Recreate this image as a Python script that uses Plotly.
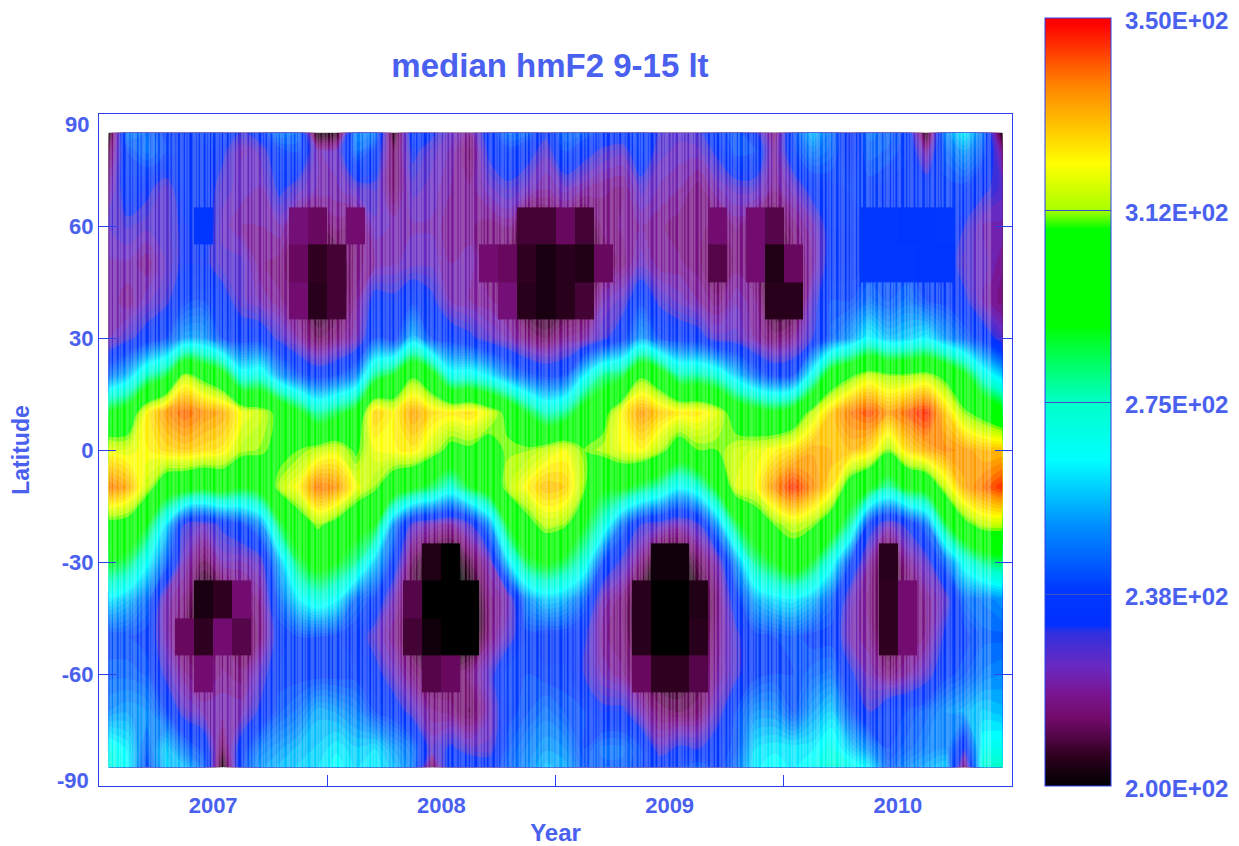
import itertools
import plotly.graph_objects as go

years = [2007, 2008, 2009, 2010]
months = [y + (m + 0.5) / 12 for y in years for m in range(12)]
latitudes = [-85, -80, -70, -60, -50, -40, -30, -20, -10, 0, 10, 20, 30, 40, 50, 60, 70, 80, 85]

lat_s85 = [272,264,240,258,256,246,203,240,252,256,258,260, 264,260,262,256,248,212,238,238,236,244,250,256, 254,242,244,244,240,236,240,244,238,246,262,264, 262,266,272,268,262,244,250,254,258,215,272,276]
lat_s80 = [268,262,244,258,246,238,212,236,248,252,256,258, 262,258,260,252,246,225,232,226,226,242,248,252, 250,240,246,246,240,226,232,230,236,242,260,262, 262,262,268,258,250,240,244,248,250,232,266,268]
lat_s70 = [250,252,250,240,226,222,222,222,232,242,246,254, 252,248,240,236,226,218,216,212,222,238,242,246, 242,240,232,232,222,214,212,214,226,240,250,250, 242,252,258,242,230,238,240,244,250,254,258,256]
lat_s60 = [244,244,242,228,218,214,218,216,226,238,238,238, 238,238,234,224,216,210,212,216,226,240,240,238, 238,230,222,218,212,206,206,210,220,228,238,240, 240,244,246,232,222,216,220,226,238,242,248,250]
lat_s50 = [240,240,238,222,212,206,214,210,216,236,240,240, 238,236,226,218,208,202,200,200,216,226,238,236, 236,232,218,216,205,200,200,205,218,228,238,240, 242,238,238,222,218,206,214,218,232,238,244,244]
lat_s40 = [262,256,246,222,216,203,206,214,218,245,262,270, 264,245,238,222,210,200,200,200,216,222,250,258, 255,244,222,216,205,200,200,204,216,236,254,260, 262,256,244,224,216,206,214,218,226,245,248,252]
lat_s30 = [290,284,266,245,222,212,222,222,226,256,285,296, 290,280,258,236,212,204,200,210,222,260,285,292, 285,272,240,228,216,202,202,212,222,252,280,290, 300,288,268,240,220,205,218,226,245,268,280,284]
lat_s20 = [306,304,290,262,230,225,232,238,250,285,302,312, 305,296,290,250,226,222,220,228,250,290,305,315, 312,290,272,246,230,226,222,228,252,285,300,310, 316,312,300,278,235,224,232,246,285,306,315,315]
lat_s10 = [338,332,316,300,296,292,296,290,296,314,322,338, 335,320,312,300,292,284,272,288,298,314,322,330, 328,312,292,292,284,276,264,272,292,318,320,335, 345,336,325,302,292,278,292,296,316,332,338,345]
lat_eq  = [320,318,322,326,328,326,324,314,312,306,310,315, 318,308,320,322,324,316,306,308,304,312,312,316, 320,310,314,320,322,314,302,310,310,316,318,322, 326,332,330,330,326,312,326,332,336,334,330,330]
lat_n10 = [292,298,322,334,340,335,332,320,316,306,292,278, 285,295,328,322,333,326,324,326,318,306,288,275, 280,298,305,322,334,328,324,324,318,302,296,292, 298,315,328,338,342,334,340,346,328,312,305,296]
lat_n20 = [246,256,275,285,314,305,295,268,270,252,242,236, 240,248,280,290,308,295,268,268,262,250,242,238, 240,262,280,285,308,298,278,278,272,258,245,238, 240,268,298,308,316,312,312,314,306,292,270,258]
lat_n30 = [222,228,234,240,252,252,240,236,236,228,220,212, 216,222,240,236,256,240,236,232,226,222,216,212, 218,220,228,236,252,240,236,234,226,226,220,214, 218,230,244,252,264,256,258,262,252,244,236,226]
lat_n40 = [222,218,224,228,238,240,234,226,222,218,214,205, 208,218,234,232,238,232,222,220,218,215,205,203, 205,208,222,226,238,228,224,220,216,222,218,205, 205,226,240,240,246,242,246,240,238,232,222,216]
lat_n50 = [222,222,218,225,232,232,226,226,218,216,212,206, 208,216,220,222,224,224,220,222,214,212,206,203, 205,204,212,216,224,218,218,216,210,216,214,204, 212,220,235,235,238,238,238,236,236,226,224,218]
lat_n60 = [225,228,226,226,232,236,224,220,220,222,215,212, 216,214,224,222,222,222,218,218,216,218,208,208, 212,208,216,218,220,218,216,216,214,218,214,210, 216,222,235,235,238,238,236,236,238,230,222,222]
lat_n70 = [220,236,232,226,236,236,226,224,222,232,226,222, 222,226,228,214,226,224,220,218,224,228,224,220, 224,220,218,217,226,222,220,216,222,226,226,218, 224,234,236,238,238,236,236,236,238,238,232,226]
lat_n80 = [212,240,246,240,236,236,232,222,226,238,240,222, 224,245,238,212,232,226,222,214,232,238,234,226, 240,234,228,226,238,226,224,224,232,242,240,218, 238,248,244,232,244,242,238,220,244,252,242,218]
lat_n85 = [203,248,245,238,236,240,238,230,236,248,245,203, 205,250,248,205,238,232,224,218,236,246,244,232, 245,243,238,236,240,228,226,228,238,242,232,216, 240,256,246,230,246,244,238,205,250,262,246,203]

z_rows = [lat_s85, lat_s80, lat_s70, lat_s60, lat_s50, lat_s40, lat_s30, lat_s20, lat_s10, lat_eq,
          lat_n10, lat_n20, lat_n30, lat_n40, lat_n50, lat_n60, lat_n70, lat_n80, lat_n85]

# Spacing, in days, of the thin sampling streaks that run through the reference's field
streak_gaps_days = [
    4,5,3,6,4,7,3,5,4,3,6,5,3,8,4,3,5,6,3,4,7,5,3,4,6,3,5,4,8,3,4,5,3,6,4,5,7,3,4,5,
    3,6,4,3,5,8,4,3,6,5,4,3,7,4,5,3,6,3,4,5,4,7,3,5,6,4,3,5,4,8,3,6,4,5,3,4,6,5,3,7,
    4,3,5,6,4,3,8,5,3,4,6,4,5,3,7,4,3,5,6,3,4,5,7,3,6,4,5,3,4,8,5,3,6,4,3,5,4,6,7,3,
    5,4,3,6,5,4,8,3,4,5,6,3,7,4,5,3,4,6,3,5,8,4,3,5,6,4,3,7,5,4,3,6,4,5,3,8,4,6,3,5,
    4,3,7,5,6,3,4,5,4,3,6,8,3,5,4,6,3,4,7,5,3,6,4,5,3,4,8,6,3,5,4,3,6,5,7,3,4,5,6,3,
    4,8,5,3,4,6,3,5,7,4,3,6,5,4,3,5,8,4,6,3,4,5,7,3,4,6,5,3,4,8,3,5,6,4,3,7,5,4,6,3,
    5,4,3,8,6,4,5,3,7,4,3,6,5,4,3,5,6,8,3,4,5,7,3,6,4,3,5,4,6,3,8,5,4,3,6,5,3,7,4,5,
    3,6,4,5,7,3,4,8,3,5,6,4,3,5,7,4,3,6,5,3,
]

year_labels = ["2007", "2008", "2009", "2010"]
lat_ticks = [-60, -30, 0, 30, 60]
bar_ticks = [200, 237.5, 275, 312.5, 350]
bar_labels = ["2.00E+02", "2.38E+02", "2.75E+02", "3.12E+02", "3.50E+02"]

BLUE = "#2a40f0"
TEXT = "#4a60ee"
FONT = "Liberation Sans"

scale = [
    [0.00, "#000000"], [0.04, "#300020"], [0.086, "#700a68"], [0.12, "#7a1590"],
    [0.155, "#6a28c0"], [0.20, "#3030e0"], [0.21, "#0030ff"], [0.255, "#0038ff"],
    [0.34, "#0090ff"], [0.425, "#00ffff"], [0.50, "#00ffc8"], [0.60, "#00ff00"],
    [0.725, "#00ff00"], [0.75, "#a8ff00"], [0.81, "#ffff00"], [0.915, "#ff8000"],
    [0.993, "#ff0000"], [1.00, "#ff0000"],
]

streak_x, streak_y = [], []
for day in itertools.accumulate(streak_gaps_days, initial=15):
    if day > 1446:
        break
    streak_x += [2007 + day / 365.25, 2007 + day / 365.25, None]
    streak_y += [latitudes[0], latitudes[-1], None]


def is_solid(lat, value):
    """Cells that the reference shows as unstreaked, blocky patches."""
    if abs(lat) >= 80 or abs(lat) <= 20:
        return False
    if value <= 208:
        return True
    if abs(lat) in (40, 50, 60) and value <= 215:
        return True
    return lat in (50, 60) and 236 <= value <= 238


solid_rows = [[v if 0 < i < len(row) - 1 and is_solid(lat, v) else None for i, v in enumerate(row)]
              for lat, row in zip(latitudes, z_rows)]

fig = go.Figure()
fig.add_trace(go.Contour(
    x=months, y=latitudes, z=z_rows,
    colorscale=scale, zmin=200, zmax=350, showscale=False,
    contours=dict(start=200, end=350, size=2.5, coloring="fill", showlines=False),
    line=dict(width=0),
))
fig.add_trace(go.Scatter(
    x=streak_x, y=streak_y, mode="lines", hoverinfo="skip", showlegend=False,
    line=dict(color="rgba(255,255,255,0.23)", width=2),
))
fig.add_trace(go.Heatmap(
    x=months, y=latitudes, z=solid_rows, colorscale=scale, zmin=200, zmax=350,
    showscale=False, hoverinfo="skip", xaxis="x2", yaxis="y2",
))
fig.add_trace(go.Scatter(
    x=[None], y=[None], mode="markers", hoverinfo="skip", showlegend=False,
    marker=dict(
        color=[200], cmin=200, cmax=350, colorscale=scale, showscale=True,
        colorbar=dict(
            thickness=66, thicknessmode="pixels", len=768, lenmode="pixels",
            x=(1045 - 99) / 913, xanchor="left", xpad=0,
            y=(786 - 18) / 672, yanchor="top", ypad=0,
            outlinecolor=BLUE, outlinewidth=1, borderwidth=0,
            tickmode="array", tickvals=bar_ticks, showticklabels=False,
            ticks="inside", ticklen=66, tickwidth=1, tickcolor="#4050c8",
        ),
    ),
))

PLOT_L, PLOT_R, PLOT_T, PLOT_B = 99, 1012, 114, 786
label_font = dict(family=FONT, size=22, color=TEXT, weight="bold")
bar_font = dict(family=FONT, size=24, color=TEXT, weight="bold")
bar_annotations = [
    dict(text=t, xref="paper", x=(1123 - PLOT_L) / (PLOT_R - PLOT_L), xanchor="left",
         yref="paper", y=(PLOT_B - (786 - (v - 200) / 150 * 768 + 2)) / (PLOT_B - PLOT_T), yanchor="middle",
         showarrow=False, font=bar_font)
    for t, v in zip(bar_labels, bar_ticks)
]
edge_annotations = [
    dict(text=t, x=0, xref="paper", xanchor="right", xshift=-8, y=yv, yref="y", yanchor="middle",
         showarrow=False, font=label_font)
    for t, yv in [("90", 87.3), ("-90", -88.4)]
]

fig.update_layout(
    width=1239, height=846,
    margin=dict(l=PLOT_L, r=1239 - PLOT_R, t=PLOT_T, b=846 - PLOT_B, autoexpand=False),
    plot_bgcolor="white", paper_bgcolor="white",
    title=dict(text="median hmF2 9-15 lt", x=550 / 1239, xref="container", xanchor="center",
               y=1 - 65 / 846, yanchor="middle",
               font=dict(family=FONT, size=33, color=TEXT, weight="bold")),
    annotations=edge_annotations + bar_annotations,
    xaxis2=dict(overlaying="x", range=[2007, 2011], visible=False),
    yaxis2=dict(overlaying="y", range=[-90, 90], visible=False),
)

fig.update_layout(xaxis=dict(
    range=[2007, 2011], showgrid=False, zeroline=False,
    showline=True, linecolor=BLUE, linewidth=1, mirror=True,
    tickmode="array", tickvals=[y + 0.5 for y in years], ticktext=year_labels,
    ticks="", tickfont=label_font,
    minor=dict(tickmode="array", tickvals=[2008, 2009, 2010], ticks="inside", ticklen=11,
               tickwidth=1, tickcolor=BLUE, showgrid=False),
    title=dict(text="Year", standoff=6, font=dict(family=FONT, size=24, color=TEXT, weight="bold")),
))
fig.update_layout(yaxis=dict(
    range=[-90, 90], showgrid=False, zeroline=False,
    showline=True, linecolor=BLUE, linewidth=1, mirror="ticks",
    tickmode="array", tickvals=lat_ticks, ticktext=[str(v) for v in lat_ticks],
    ticks="inside", ticklen=17, tickwidth=1, tickcolor=BLUE,
    tickfont=label_font,
    title=dict(text="Latitude", standoff=25, font=dict(family=FONT, size=23, color=TEXT, weight="bold")),
))

fig.write_html("out.html", config={"displayModeBar": False},
               post_script="document.body.style.margin='0';")
